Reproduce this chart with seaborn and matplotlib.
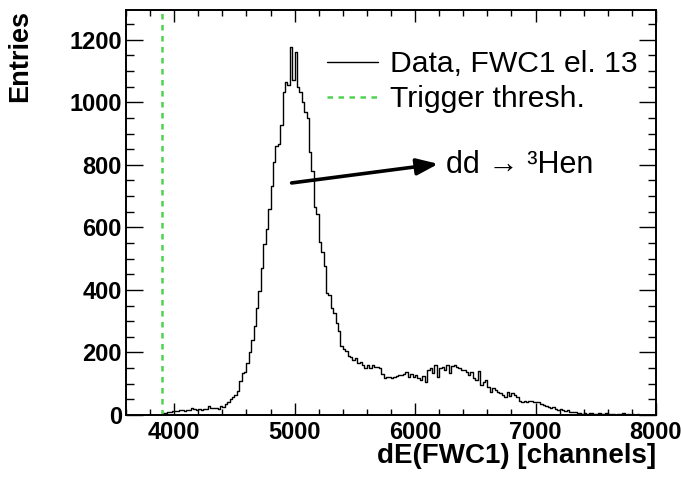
import numpy as np
import pandas as pd
import matplotlib
matplotlib.use("Agg")
import matplotlib.pyplot as plt
import seaborn as sns
from matplotlib.ticker import MultipleLocator
from matplotlib.lines import Line2D

# ---- data ----
bin_start = 3900
bin_width = 20
counts_peak = [
    5, 6, 8, 10, 12, 14, 12, 15, 15, 13,
    17, 16, 22, 18, 16, 19, 17, 20, 19, 30,
    22, 21, 23, 19, 30, 26, 36, 42, 51, 56,
    65, 78, 110, 135, 136, 166, 203, 241, 284, 343,
    396, 471, 546, 594, 658, 733, 808, 860, 865, 926,
    1033, 1065, 1054, 1177, 1070, 1161, 1049, 1033, 1001, 969,
    950, 841, 781, 664, 642, 552, 520, 476, 391, 385,
    343, 327, 295, 267,
]
counts_tail = [
    222, 210, 205, 190, 186, 175, 182, 166, 171, 160,
    150, 160, 150, 160, 155, 152, 150, 130, 118, 123,
    120, 118, 123, 125, 128, 128, 130, 136, 122, 132,
    123, 128, 118, 112, 125, 107, 144, 150, 134, 160,
    123, 150, 155, 144, 160, 134, 157, 160, 155, 150,
    144, 145, 136, 128, 136, 118, 112, 141, 96, 107,
    112, 91, 75, 86, 80, 75, 70, 64, 59, 73,
    62, 70, 64, 59, 46, 43, 45, 43, 44, 45,
    40, 42, 43, 36, 32, 29, 24, 21, 24, 18,
    16, 18, 15, 13, 17, 11, 9, 8, 6, 6,
    4, 6, 3, 5, 7, 4, 3, 5, 2, 4,
    6, 3, 2, 4, 1, 3, 2, 5, 1, 3,
    1, 2, 1, 3, 1, 0, 0, 0, 0, 0,
    0,
]
counts = counts_peak + counts_tail
trigger_threshold = 3900
x_range = (3600, 8000)
y_range = (0, 1295)
x_ticks = [4000, 5000, 6000, 7000, 8000]
y_ticks = [0, 200, 400, 600, 800, 1000, 1200]
legend_labels = ["Data, FWC1 el. 13", "Trigger thresh."]
annotation_text = "dd \u2192 \u00b3Hen"
arrow_from = (4975, 742)
arrow_to = (6192, 803)
text_pos = (6258, 800)

bin_end = bin_start + bin_width * len(counts)
centers = bin_start + bin_width * (np.arange(len(counts)) + 0.5)
df = pd.DataFrame({"dE": centers, "n": counts})

# ---- style ----
sns.set_style("white")
plt.rcParams["font.family"] = ["Liberation Sans", "DejaVu Sans"]
plt.rcParams["text.color"] = "black"
plt.rcParams["axes.labelcolor"] = "black"
plt.rcParams["xtick.color"] = "black"
plt.rcParams["ytick.color"] = "black"

fig = plt.figure(figsize=(6.81, 4.80), dpi=100)
ax = fig.add_axes([126 / 681, 1 - 415 / 480, 530 / 681, 405 / 480])

sns.histplot(data=df, x="dE", weights="n", binwidth=bin_width,
             binrange=(bin_start, bin_end), element="step",
             fill=False, color="black", linewidth=1.0, ax=ax)
green = "#4fd24f"
ax.axvline(trigger_threshold, color=green, lw=1.8, ls=(0, (2.2, 2.2)))

ax.set_xlim(*x_range)
ax.set_ylim(*y_range)
ax.set_xticks(x_ticks)
ax.set_yticks(y_ticks)
ax.xaxis.set_minor_locator(MultipleLocator(200))
ax.yaxis.set_minor_locator(MultipleLocator(50))
ax.tick_params(which="both", direction="in", top=True, right=True,
               bottom=True, left=True, color="black", width=1.0,
               labelcolor="black")
ax.tick_params(axis="x", which="major", length=8.5, pad=4, labelsize=17)
ax.tick_params(axis="x", which="minor", length=4.5)
ax.tick_params(axis="y", which="major", length=12.5, pad=3, labelsize=17)
ax.tick_params(axis="y", which="minor", length=6)
for lab in ax.get_xticklabels() + ax.get_yticklabels():
    lab.set_fontweight("bold")
for sp in ax.spines.values():
    sp.set_linewidth(1.4)
    sp.set_color("black")

ax.set_xlabel("dE(FWC1) [channels]", fontsize=20, fontweight="bold",
              loc="right", color="black")
ax.xaxis.set_label_coords(1.0, -0.068)
ax.set_ylabel("Entries", fontsize=19.5, fontweight="bold", loc="top",
              color="black")
ax.yaxis.set_label_coords(-0.175, 1.0)

handles = [Line2D([], [], color="black", lw=1.0),
           Line2D([], [], color=green, lw=1.8, ls=(0, (2.2, 2.2)))]
leg = ax.legend(handles, legend_labels, loc="upper left",
                bbox_to_anchor=(0.379, 0.90), frameon=False, fontsize=21.7,
                handlelength=1.7, handletextpad=0.4, labelspacing=0.22,
                borderpad=0, borderaxespad=0)
for t in leg.get_texts():
    t.set_color("black")

ax.annotate("", xy=arrow_to, xytext=arrow_from,
            arrowprops=dict(arrowstyle="-|>,head_length=0.65,head_width=0.25",
                            lw=2.6, color="black", shrinkA=0, shrinkB=0,
                            mutation_scale=20))
ax.text(*text_pos, annotation_text, fontsize=22, va="center", ha="left",
        color="black")

fig.savefig("out.png", dpi=100)
